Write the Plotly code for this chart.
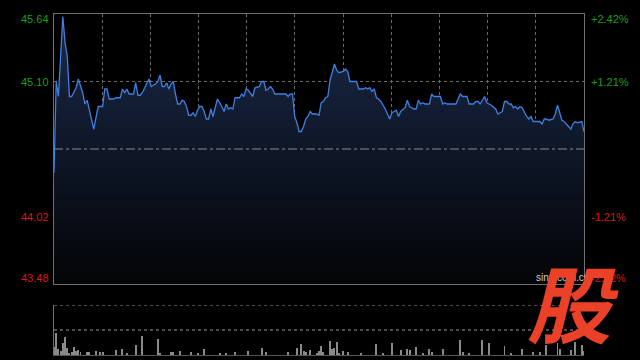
import plotly.graph_objects as go

# ---- data (trading-minute index 0..240, price) ----
minutes = [0,1,2,4,5,6,7,8,10,11,13,14,15,16,18,20,22,23,24,25,27,28,30,31,32,33,34,36,37,38,39,
           40,42,43,44,46,47,48,49,50,51,52,53,54,55,56,57,58,59,60,61,62,63,64,65,66,67,68,69,70,
           71,72,73,74,76,77,78,79,80,81,82,84,85,86,87,88,90,91,93,94,95,96,97,98,99,100,101,105,
           106,107,108,109,110,111,112,113,114,115,116,117,119,120,121,122,123,124,125,127,128,129,
           131,132,133,134,137,138,140,141,142,143,144,145,146,147,148,150,152,153,154,155,156,157,
           159,160,161,162,163,164,165,166,167,168,170,171,172,175,176,177,178,182,184,185,187,188,
           190,191,192,193,195,196,197,198,200,201,202,203,204,205,206,207,208,209,210,211,212,213,
           214,215,216,217,220,221,222,223,224,226,227,228,229,230,231,232,234,235,236,237,239,240]
prices = [44.37,45.10,44.98,45.62,45.41,45.30,44.98,44.98,45.05,45.12,45.01,44.92,44.95,44.88,44.72,
          44.90,44.90,45.04,45.04,44.96,44.96,44.97,44.97,45.04,45.01,45.04,45.00,45.00,45.09,44.99,44.99,
          45.01,45.09,45.12,45.06,45.08,45.10,45.15,45.06,45.06,45.09,45.04,45.08,45.10,45.00,44.92,44.92,
          44.95,44.94,44.90,44.83,44.83,44.85,44.82,44.87,44.90,44.90,44.86,44.80,44.80,
          44.88,44.82,44.89,44.96,44.90,44.86,44.92,44.88,44.89,44.88,44.97,44.97,45.00,44.98,45.04,45.03,
          44.98,45.05,45.06,45.10,45.10,45.03,45.04,45.06,45.04,45.00,45.00,45.00,
          44.98,45.00,45.00,44.82,44.77,44.70,44.70,44.74,44.80,44.82,44.86,44.84,44.84,44.83,44.93,44.94,
          44.97,44.98,45.11,45.24,45.19,45.17,
          45.18,45.20,45.18,45.10,45.10,45.04,45.04,45.05,45.04,45.05,45.02,45.04,44.97,44.96,44.94,44.88,
          44.80,44.85,44.86,44.87,44.82,44.86,
          44.89,44.95,44.90,44.89,44.88,44.88,44.95,44.92,44.93,44.92,44.92,45.00,44.98,44.98,44.92,44.93,
          44.92,44.92,45.00,44.98,44.98,44.92,
          44.92,44.94,44.94,44.92,44.98,44.93,44.92,44.91,44.88,44.84,44.85,44.86,44.94,44.94,44.92,44.92,
          44.89,44.90,44.88,44.90,44.89,44.85,
          44.82,44.80,44.82,44.78,44.78,44.76,44.80,44.80,44.79,44.80,44.84,44.91,44.85,44.79,44.78,44.76,
          44.72,44.76,44.78,44.77,44.78,44.70]

vol_minutes = [0,1,2,3,4,5,6,7,8,9,10,11,12,15,16,19,21,22,28,31,33,37,40,47,48,53,54,57,62,65,68,75,78,
               82,88,94,96,106,110,112,113,114,116,119,120,121,122,125,126,127,128,129,131,133,139,146,
               149,153,157,160,161,164,167,170,171,176,184,185,188,194,197,204,207,212,217,220,223,228,
               229,234,236,239,240]
volumes = [8000,22000,6000,4000,12000,18000,7000,2000,3000,8000,4000,5000,3000,3000,3000,4000,3000,3000,
           5000,6000,2000,10000,19000,16000,2000,3000,3000,4000,3000,2000,6000,2000,2000,3000,4000,7000,
           3000,3000,7000,11000,4000,3000,5000,2000,4000,9000,3000,14000,6000,7000,13000,2000,4000,3000,
           2000,11000,2000,12000,5000,6000,5000,8000,2000,6000,3000,6000,15000,3000,2000,15000,12000,
           9000,2000,6000,3000,3000,10000,12000,6000,5000,13000,10000,4000]

prev_close = 44.56
price_max, price_min = 45.64, 43.48
left_labels = ["45.64", "45.10", "44.02", "43.48"]
left_values = [45.64, 45.10, 44.02, 43.48]
right_labels = ["+2.42%", "+1.21%", "-1.21%", "-2.42%"]

GREEN = "#1c9e1c"
RED = "#d81818"
GRID = "#6a6a6a"
BORDER = "#707070"

fig = go.Figure()

fig.add_trace(go.Scatter(
    x=minutes, y=prices, mode="lines",
    line=dict(color="#3f7fe0", width=1.3),
    fill="tozeroy",
    fillgradient=dict(type="vertical", start=price_min, stop=45.3,
                      colorscale=[[0, "#030406"], [1, "#17243f"]]),
    xaxis="x", yaxis="y", hoverinfo="skip"))

fig.add_trace(go.Bar(
    x=vol_minutes, y=volumes, width=0.45,
    marker=dict(color="#8a8a8a", line=dict(width=0)),
    xaxis="x2", yaxis="y2", hoverinfo="skip"))

vgrid = [240 * k / 11 for k in range(1, 11)]

fig.update_layout(
    width=640, height=360,
    margin=dict(l=54, r=56, t=14, b=5),
    paper_bgcolor="#000000", plot_bgcolor="#000000",
    showlegend=False, bargap=0,
    font=dict(family="Liberation Sans, Arial, sans-serif", size=11),
    xaxis=dict(domain=[0, 1], range=[0, 240], tickvals=vgrid, showticklabels=False,
               showgrid=True, gridcolor=GRID, griddash="dot", gridwidth=1,
               zeroline=False, showline=True, linecolor=BORDER, mirror=True, linewidth=1,
               ticks=""),
    yaxis=dict(domain=[0.2082, 1], range=[price_min, price_max], tickvals=[44.02, 45.10],
               showticklabels=False, showgrid=True, gridcolor=GRID, griddash="dot",
               zeroline=False, showline=True, linecolor=BORDER, mirror=True, linewidth=1,
               ticks=""),
    xaxis2=dict(domain=[0, 1], range=[0, 240], anchor="y2", showticklabels=False,
                showgrid=False, zeroline=False, showline=True, linecolor="#555555",
                ticks=""),
    yaxis2=dict(domain=[0, 0.1466], range=[0, 50000], anchor="x2", showticklabels=False,
                showgrid=False, zeroline=False, showline=True, linecolor=BORDER, ticks=""),
)

shapes = [
    dict(type="line", xref="paper", yref="y", x0=0, x1=1, y0=prev_close, y1=prev_close,
         line=dict(color="#8a8a8a", width=1, dash="dashdot")),
    dict(type="line", xref="paper", yref="y2", x0=0, x1=1, y0=50000, y1=50000,
         line=dict(color=GRID, width=1.5, dash="dot")),
    dict(type="line", xref="paper", yref="y2", x0=0, x1=1, y0=25000, y1=25000,
         line=dict(color=GRID, width=1.5, dash="dot")),
]
fig.update_layout(shapes=shapes)

ann = []
shifts = [-5, 0, 0, 6]
for lbl, val, rl, sh in zip(left_labels, left_values, right_labels, shifts):
    col = GREEN if val > prev_close else RED
    ann.append(dict(x=0, xref="paper", xanchor="right", xshift=-3, y=val, yref="y",
                    yanchor="middle", yshift=sh, text=lbl, showarrow=False,
                    font=dict(color=col, size=11)))
    ann.append(dict(x=1, xref="paper", xanchor="left", xshift=5, y=val, yref="y",
                    yanchor="middle", yshift=sh, text=rl, showarrow=False,
                    font=dict(color=col, size=11)))

ann.append(dict(x=0.96, xref="paper", xanchor="center", y=price_min, yref="y", yshift=7,
                text="sina.com.cn", showarrow=False, font=dict(color="#cfcfcf", size=10)))
ann.append(dict(x=0.98, xref="paper", xanchor="center", y=0.16, yref="paper", yanchor="middle",
                text="<b>股</b>", showarrow=False,
                font=dict(color="#ea4128", size=84, family="Noto Sans CJK SC", style="italic")))
fig.update_layout(annotations=ann)

fig.write_html("out.html", config={"displayModeBar": False},
               post_script="document.body.style.margin='0';document.body.style.background='#000';")
